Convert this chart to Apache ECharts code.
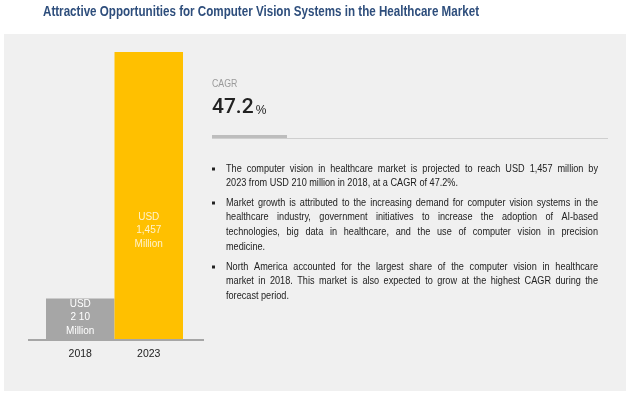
<!DOCTYPE html>
<html><head><meta charset="utf-8">
<script src="https://cdn.jsdelivr.net/npm/echarts@6/dist/echarts.min.js"></script>
<style>html,body{margin:0;padding:0;background:#fff}#c{width:633px;height:398px}</style>
</head><body><div id="c"></div>
<script>
var titleText = 'Attractive Opportunities for Computer Vision Systems in the Healthcare Market';
var categories = ['2018', '2023'];
var values = [210, 1457];
var valueLabels = ['USD\n2 10\nMillion', 'USD\n1,457\nMillion'];
var cagrLabel = 'CAGR';
var cagrValue = '47.2';
var bullets = [
  ['The computer vision in healthcare market is projected to reach USD 1,457 million by',
   '2023 from USD 210 million in 2018, at a CAGR of 47.2%.'],
  ['Market growth is attributed to the increasing demand for computer vision systems in the',
   'healthcare industry, government initiatives to increase the adoption of AI-based',
   'technologies, big data in healthcare, and the use of computer vision in precision',
   'medicine.'],
  ['North America accounted for the largest share of the computer vision in healthcare',
   'market in 2018. This market is also expected to grow at the highest CAGR during the',
   'forecast period.']
];

var chart = echarts.init(document.getElementById('c'), null, {renderer: 'canvas'});
var FONT = '"Liberation Sans", Arial, sans-serif';
var ctx = document.createElement('canvas').getContext('2d');
function measure(t, font) { ctx.font = font; return ctx.measureText(t).width; }

var barColors = ['#a6a6a6', '#ffc000'];
var labelColors = ['#ffffff', '#fff2cc'];
var labelPos = [['50%', '46%'], ['50%', '62%']];

// title, condensed to the reference's width
var titleFont = 'bold 15px ' + FONT;
var titleScale = 436 / measure(titleText, titleFont);

var graphics = [
  {type: 'rect', shape: {x: 4, y: 34, width: 622, height: 357}, style: {fill: '#f0f0f0'}, z: -10},
  {type: 'text', x: 43, y: 12, scaleX: titleScale,
    style: {text: titleText, fill: '#2e4e7c', font: titleFont, verticalAlign: 'middle'}},
  {type: 'line', shape: {x1: 28, y1: 340, x2: 204, y2: 340}, style: {stroke: '#a6a6a6', lineWidth: 2}, z: 10},
  {type: 'text', x: 212, y: 84, scaleX: 0.88,
    style: {text: cagrLabel, fill: '#9a9a9a', font: '10px ' + FONT, verticalAlign: 'middle'}},
  {type: 'text', x: 212, y: 118, 
    style: {text: '{a|' + cagrValue + '}{b|%}', verticalAlign: 'bottom',
      rich: {a: {fontSize: 21, fontWeight: 500, fill: '#222', fontFamily: 'Roboto, ' + FONT, verticalAlign: 'bottom', lineHeight: 22},
             b: {fontSize: 12, fill: '#222', fontFamily: FONT, verticalAlign: 'bottom', padding: [0, 0, 1, 2], lineHeight: 14}}}},
  {type: 'line', shape: {x1: 212, y1: 138.5, x2: 608, y2: 138.5}, style: {stroke: '#cfcfcf', lineWidth: 1}},
  {type: 'rect', shape: {x: 212, y: 135, width: 75, height: 3}, style: {fill: '#bdbdbd'}}
];

// body text: condensed font, justified lines
var bodyFont = '10px ' + FONT;
var bodyScale = 232 / measure(bullets[0][1], bodyFont);
var textLeft = 226, textWidth = 372;
var lineH = 14.6;
var starts = [169, 203, 267];
bullets.forEach(function (para, i) {
  graphics.push({type: 'rect', shape: {x: 212, y: starts[i] - 1.5, width: 3, height: 3}, style: {fill: '#222'}});
  para.forEach(function (ln, j) {
    var y = starts[i] + j * lineH;
    var last = j === para.length - 1;
    if (last) {
      graphics.push({type: 'text', x: textLeft, y: y, scaleX: bodyScale,
        style: {text: ln, fill: '#222', font: bodyFont, verticalAlign: 'middle'}});
    } else {
      var words = ln.split(' ');
      var widths = words.map(function (w) { return measure(w, bodyFont) * bodyScale; });
      var sum = widths.reduce(function (a, b) { return a + b; }, 0);
      var gap = (textWidth - sum) / (words.length - 1);
      var x = textLeft;
      words.forEach(function (w, k) {
        graphics.push({type: 'text', x: x, y: y, scaleX: bodyScale,
          style: {text: w, fill: '#222', font: bodyFont, verticalAlign: 'middle'}});
        x += widths[k] + gap;
      });
    }
  });
});

chart.setOption({
  animation: false,
  grid: {left: 46, top: 52, width: 137, height: 288},
  xAxis: {type: 'category', data: categories,
    axisLine: {show: false}, axisTick: {show: false},
    axisLabel: {color: '#222', fontSize: 10.5, fontFamily: FONT, margin: 9}},
  yAxis: {type: 'value', min: 0, max: 1457, show: false, splitLine: {show: false}},
  series: [{
    type: 'bar', barWidth: '100%',
    data: values.map(function (v, i) {
      return {value: v, itemStyle: {color: barColors[i]},
        label: {show: true, position: labelPos[i], align: 'center', verticalAlign: 'middle',
          formatter: valueLabels[i], color: labelColors[i], fontSize: 10, lineHeight: 13.5, fontFamily: FONT}};
    })
  }],
  graphic: graphics
});
</script></body></html>
